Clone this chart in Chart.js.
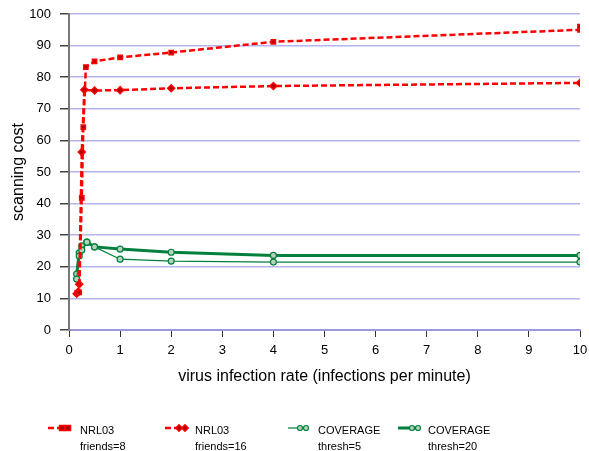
<!DOCTYPE html>
<html><head><meta charset="utf-8">
<script src="https://cdn.jsdelivr.net/npm/chart.js@4/dist/chart.umd.min.js"></script>
<style>html,body{margin:0;padding:0;background:#fff}#wrap{width:589px;height:451px}</style>
</head><body><div id="wrap"><canvas id="c" width="589" height="451"></canvas></div>
<script>
const xTicks = [0,1,2,3,4,5,6,7,8,9,10];
const yTicks = [0,10,20,30,40,50,60,70,80,90,100];
const nrlF8X = [0.16,0.2,0.25,0.28,0.33,0.5,1,2,4,10,10];
const nrlF8Y = [11.8,11.9,41.8,64.2,83.2,85,86.3,87.8,91.2,95,96];
const nrlF16X = [0.15,0.2,0.25,0.3,0.5,1,2,4,10];
const nrlF16Y = [11.5,14.5,56.3,76,75.8,75.9,76.5,77.2,78.2];
const covT5X = [0.15,0.2,0.25,0.35,0.5,1,2,4,10];
const covT5Y = [16.1,23.4,25.3,27.8,26.3,22.4,21.8,21.5,21.5];
const covT20X = [0.15,0.2,0.25,0.35,0.5,1,2,4,10];
const covT20Y = [17.7,24.4,26.6,27.8,26.3,25.6,24.6,23.6,23.6];
const seriesNames = [["NRL03","friends=8"],["NRL03","friends=16"],["COVERAGE","thresh=5"],["COVERAGE","thresh=20"]];

const pts = (xs, ys) => xs.map((x,i)=>({x:x,y:ys[i]}));
const RED = '#ff0000', GREEN = '#00803c';
const FONT = '"Liberation Sans", Arial, sans-serif';
const datasets = [
 {label:seriesNames[0].join(' '), data:pts(nrlF8X,nrlF8Y), borderColor:RED, borderWidth:2.5, borderDash:[6,3],
  pointStyle:'rect', pointRadius:3, pointBackgroundColor:'#b00000', pointBorderColor:RED, pointBorderWidth:1.5},
 {label:seriesNames[1].join(' '), data:pts(nrlF16X,nrlF16Y), borderColor:RED, borderWidth:2.5, borderDash:[6,3],
  pointStyle:'rectRot', pointRadius:3.5, pointBackgroundColor:'#b00000', pointBorderColor:RED, pointBorderWidth:1.5},
 {label:seriesNames[2].join(' '), data:pts(covT5X,covT5Y), borderColor:GREEN, borderWidth:1.2,
  pointStyle:'circle', pointRadius:3, pointBackgroundColor:'#b8d0bc', pointBorderColor:GREEN, pointBorderWidth:1.2},
 {label:seriesNames[3].join(' '), data:pts(covT20X,covT20Y), borderColor:GREEN, borderWidth:3,
  pointStyle:'circle', pointRadius:3, pointBackgroundColor:'#b8d0bc', pointBorderColor:GREEN, pointBorderWidth:1.2}
];

const legendPos = [[48,70,80],[165,187,195],[288,308,318],[398,420,428]];
const legendPlugin = {
  id:'customLegend',
  afterDraw(chart){
    const ctx = chart.ctx;
    chart.data.datasets.forEach((ds,i)=>{
      const [x1,x2,tx] = legendPos[i];
      const y = 428;
      ctx.save();
      ctx.strokeStyle = ds.borderColor; ctx.lineWidth = ds.borderWidth;
      ctx.setLineDash(ds.borderDash||[]);
      ctx.beginPath(); ctx.moveTo(x1,y); ctx.lineTo(x2,y); ctx.stroke();
      ctx.setLineDash([]);
      [x2-8,x2-2].forEach(px=>{
        ctx.fillStyle = ds.pointBackgroundColor; ctx.strokeStyle = ds.pointBorderColor; ctx.lineWidth = ds.pointBorderWidth;
        ctx.beginPath();
        if(ds.pointStyle==='circle'){ctx.arc(px,y,2.5,0,Math.PI*2);}
        else if(ds.pointStyle==='rect'){ctx.rect(px-2.5,y-2.5,5,5);}
        else {ctx.moveTo(px,y-3.2);ctx.lineTo(px+3.2,y);ctx.lineTo(px,y+3.2);ctx.lineTo(px-3.2,y);ctx.closePath();}
        ctx.fill(); ctx.stroke();
      });
      ctx.fillStyle = '#000'; ctx.font = '11px ' + FONT;
      ctx.textBaseline = 'middle'; ctx.textAlign = 'left';
      ctx.fillText(seriesNames[i][0], tx, 431);
      ctx.fillText(seriesNames[i][1], tx, 447);
      ctx.restore();
    });
  }
};

new Chart(document.getElementById('c'), {
  type:'line',
  data:{datasets:datasets},
  plugins:[legendPlugin],
  options:{
    responsive:false, animation:false, devicePixelRatio:1,
    layout:{padding:{top:14,right:9,bottom:61,left:0}},
    plugins:{legend:{display:false}, tooltip:{enabled:false}},
    scales:{
      x:{type:'linear', min:0, max:10,
        afterBuildTicks(s){ s.ticks = xTicks.map(v=>({value:v})); },
        afterFit(s){ s.height = 60; s.paddingLeft = 0; s.paddingRight = 0; },
        grid:{drawOnChartArea:false, tickLength:7, tickColor:'#333', lineWidth:1},
        border:{color:'#9a9ad8', width:2},
        ticks:{color:'#000', font:{family:FONT, size:13}, padding:6, maxRotation:0},
        title:{display:true, text:'virus infection rate (infections per minute)', color:'#000',
          font:{family:FONT, size:16}, padding:{top:4}}
      },
      y:{min:0, max:100,
        afterBuildTicks(s){ s.ticks = yTicks.map(v=>({value:v})); },
        afterFit(s){ s.width = 69; s.paddingTop = 0; s.paddingBottom = 0; },
        grid:{color:'#b4b4f0', tickColor:'#444', tickLength:9, lineWidth:1.5},
        border:{color:'#777', width:2},
        ticks:{color:'#000', font:{family:FONT, size:13}, padding:9},
        title:{display:true, text:'scanning cost', color:'#000',
          font:{family:FONT, size:16}, padding:{top:9, bottom:2}}
      }
    }
  }
});
</script></body></html>
